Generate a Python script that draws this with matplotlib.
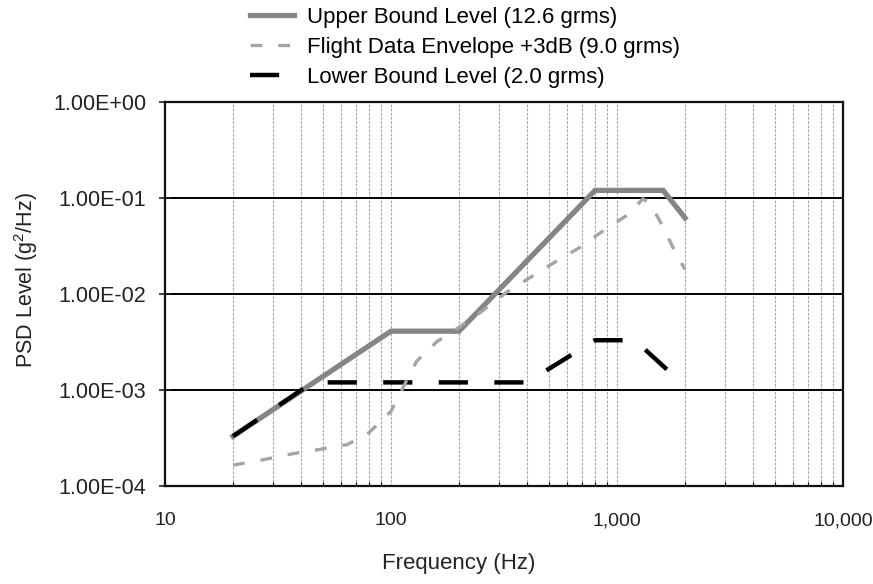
import matplotlib
matplotlib.use('Agg')
import matplotlib.pyplot as plt
from matplotlib.ticker import FixedLocator, FuncFormatter, LogLocator, NullFormatter

plt.rcParams['font.family'] = ['Liberation Sans', 'DejaVu Sans']
plt.rcParams['mathtext.fontset'] = 'custom'
plt.rcParams['mathtext.rm'] = 'Liberation Sans'
plt.rcParams['lines.scale_dashes'] = False

# upper bound level (12.6 grms)
upper_freq = [20, 100, 200, 800, 1600, 2000]
upper_psd = [0.00033, 0.0041, 0.0041, 0.12, 0.12, 0.062]

# flight data envelope +3dB (9.0 grms)
flight_freq = [20, 27, 36, 48, 64, 80, 100, 115, 130, 160, 200, 250, 326, 425, 540,
               700, 885, 1130, 1300, 1400, 1600, 1800, 2000]
flight_psd = [1.65e-4, 1.87e-4, 2.15e-4, 2.4e-4, 2.7e-4, 3.6e-4, 6.0e-4, 1.15e-3, 2.0e-3,
              3.2e-3, 4.5e-3, 6.5e-3, 1.05e-2, 1.55e-2, 2.2e-2, 3.15e-2, 4.7e-2, 6.8e-2,
              0.098, 0.088, 0.05, 0.028, 0.018]

# lower bound level (2.0 grms)
lower_freq = [20, 45, 400, 800, 1200, 2000]
lower_psd = [0.00033, 0.0012, 0.0012, 0.0033, 0.0033, 0.0011]

labels = ['Upper Bound Level (12.6 grms)',
          'Flight Data Envelope +3dB (9.0 grms)',
          'Lower Bound Level (2.0 grms)']
x_ticks = [10, 100, 1000, 10000]
y_ticks = [1e-4, 1e-3, 1e-2, 1e-1, 1e0]

FS = 15.5
W, H = 873, 584


def main():
    fig = plt.figure(figsize=(W / 100, H / 100), dpi=100)
    ax = fig.add_axes([165 / W, 1 - 486 / H, (843 - 165) / W, (486 - 102) / H])

    l_up, = ax.plot(upper_freq, upper_psd, color='#858585', lw=3.8, solid_joinstyle='miter', zorder=3)
    l_lo, = ax.plot(lower_freq, lower_psd, color='black', lw=3.2, dashes=(21, 19), zorder=4)
    l_fl, = ax.plot(flight_freq, flight_psd, color='#a5a5a5', lw=2.4, dashes=(8.5, 11.5), zorder=5)

    ax.set_xscale('log')
    ax.set_yscale('log')
    ax.set_xlim(10, 10000)
    ax.set_ylim(1e-4, 1e0)

    ax.xaxis.set_major_locator(FixedLocator(x_ticks))
    ax.xaxis.set_minor_locator(LogLocator(base=10, subs=range(2, 10), numticks=20))
    ax.xaxis.set_major_formatter(FuncFormatter(lambda v, p: f'{int(round(v)):,}'))
    ax.xaxis.set_minor_formatter(NullFormatter())
    ax.yaxis.set_major_locator(FixedLocator(y_ticks))
    ax.yaxis.set_minor_locator(FixedLocator([]))
    ax.yaxis.set_major_formatter(FuncFormatter(lambda v, p: f'{v:.2E}'))

    ax.grid(which='both', axis='x', color='#a8a8a8', lw=0.8, ls=(0, (2, 1)))
    ax.grid(which='major', axis='y', color='black', lw=1.4)

    ax.tick_params(axis='y', direction='inout', length=9, width=1.2, pad=9, labelsize=FS, colors='#222222')
    ax.tick_params(axis='x', which='major', direction='in', length=0, pad=19, labelsize=14, colors='#222222')
    ax.tick_params(axis='x', which='minor', direction='in', length=3, width=0.8)
    for s in ax.spines.values():
        s.set_linewidth(1.6)
        s.set_color('#111111')

    fig.text(459 / W, 1 - 563 / H, 'Frequency (Hz)', ha='center', va='center', fontsize=FS + 0.5, color='#222222')
    fig.text(26 / W, 1 - 280 / H, 'PSD Level (g$^2$/Hz)', ha='center', va='center', rotation=90,
             fontsize=FS, color='#222222')

    fig.legend([l_up, l_fl, l_lo], labels, loc='upper left', bbox_to_anchor=(250 / W, 1 - 7 / H),
               frameon=False, fontsize=16, handlelength=2.0, handletextpad=0.55,
               labelspacing=0.4, borderpad=0, borderaxespad=0)

    fig.savefig('out.png', dpi=100)


if __name__ == '__main__':
    main()
